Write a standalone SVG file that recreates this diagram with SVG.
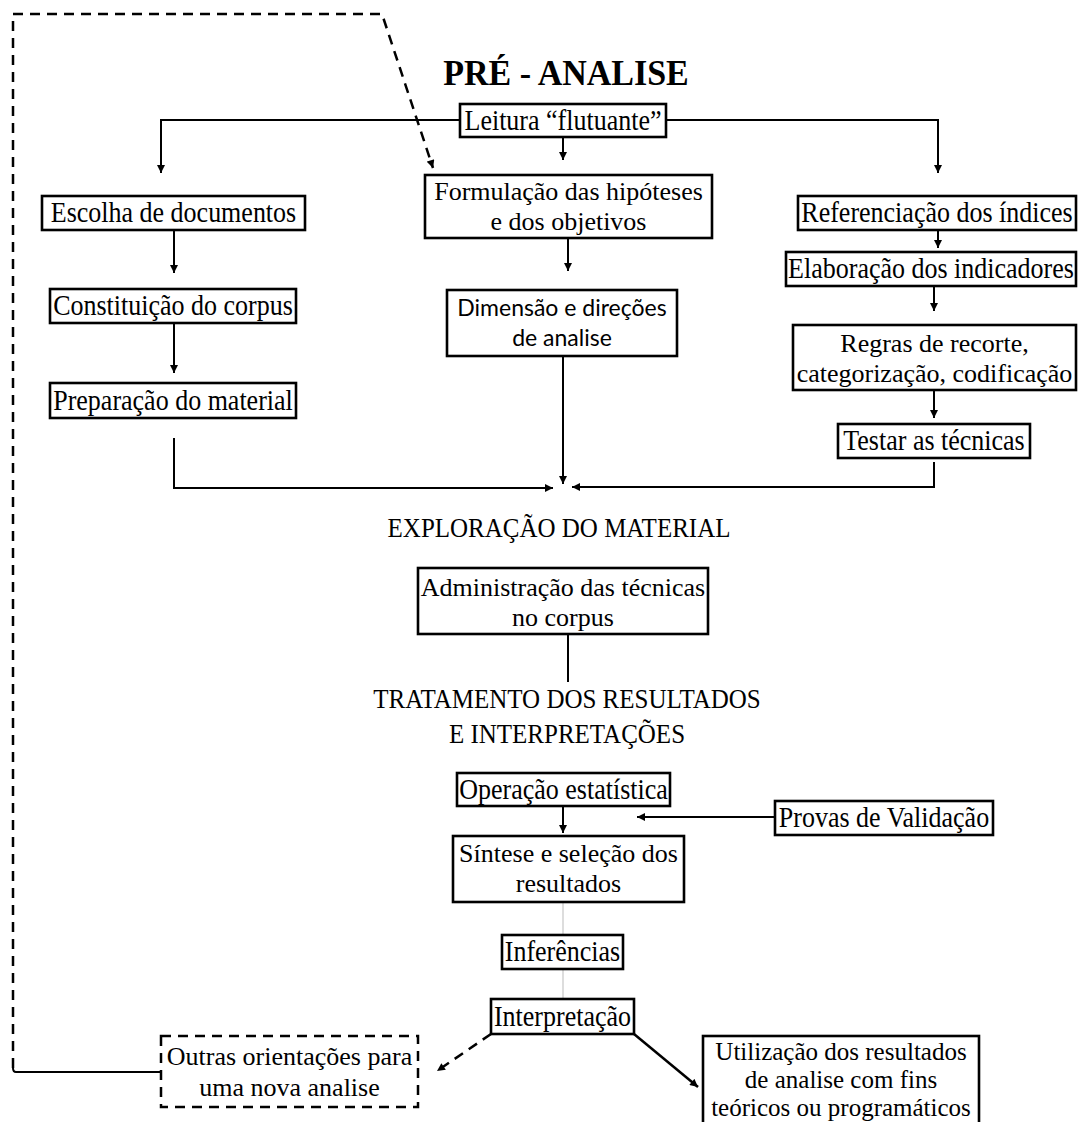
<svg xmlns="http://www.w3.org/2000/svg" width="1080" height="1122" viewBox="0 0 1080 1122">
<defs>
<marker id="ah" viewBox="0 0 10 10" refX="10" refY="5" markerWidth="9" markerHeight="8" markerUnits="userSpaceOnUse" orient="auto"><path d="M0,0 L10,5 L0,10 z" fill="#000"/></marker>
</defs>
<style>
.box{fill:#fff;stroke:#000;stroke-width:2.6}
.dbox{fill:#fff;stroke:#000;stroke-width:2.5;stroke-dasharray:10 7}
.t{font-family:"Liberation Serif","Times New Roman",serif;font-size:26px;fill:#000;text-anchor:middle}
.s{font-family:Lato,"Open Sans",sans-serif;font-size:23px;fill:#000;text-anchor:middle}
.h{font-family:"Liberation Serif","Times New Roman",serif;font-size:25px;fill:#000;text-anchor:middle}
.c{fill:none;stroke:#000;stroke-width:2}
.f{fill:none;stroke:#bbb;stroke-width:1}
.d{fill:none;stroke:#000;stroke-width:2.5;stroke-dasharray:10 7}
</style>
<rect x="0" y="0" width="1080" height="1122" fill="#fff"/>
<g id="connectors">
<path class="c" d="M460,120 H161 V173" marker-end="url(#ah)"/>
<path class="c" d="M666,120 H938 V173" marker-end="url(#ah)"/>
<path class="c" d="M563,137 V160" marker-end="url(#ah)"/>
<path class="c" d="M174,230 V273" marker-end="url(#ah)"/>
<path class="c" d="M174,323 V373" marker-end="url(#ah)"/>
<path class="c" d="M568,238 V271" marker-end="url(#ah)"/>
<path class="c" d="M938,230 V248" marker-end="url(#ah)"/>
<path class="c" d="M934,286 V311" marker-end="url(#ah)"/>
<path class="c" d="M934,390 V418" marker-end="url(#ah)"/>
<path class="c" d="M174,438 V488 H553" marker-end="url(#ah)"/>
<path class="c" d="M563,356 V484" marker-end="url(#ah)"/>
<path class="c" d="M934,462 V487 H572" marker-end="url(#ah)"/>
<path class="c" d="M568,634 V682"/>
<path class="c" d="M563,806 V833" marker-end="url(#ah)"/>
<path class="c" d="M775,817 H637" marker-end="url(#ah)"/>
<path class="f" d="M563,902 V934"/>
<path class="f" d="M563,969 V998"/>
<path class="c" style="stroke-width:2.5" d="M634,1034 L698,1087" marker-end="url(#ah)"/>
<path class="d" d="M491,1034 L437,1071" marker-end="url(#ah)"/>
<path class="c" d="M161,1072 H16 Q13,1072 13,1068"/>
<path class="d" d="M13,1068 V14 H382 L433,168" marker-end="url(#ah)"/>
</g>
<g id="title"><text transform="translate(566,85) scale(1,1.06)" style="font-family:'Liberation Serif','Times New Roman',serif;font-size:34px;font-weight:bold;text-anchor:middle">PRÉ - ANALISE</text></g>
<g id="leitura"><rect class="box" x="460" y="104" width="206" height="33"/><text class="t" transform="translate(563,130) scale(1,1.12)">Leitura “flutuante”</text></g>
<g id="escolha"><rect class="box" x="42" y="196" width="263" height="34"/><text class="t" transform="translate(173.5,222) scale(1,1.12)">Escolha de documentos</text></g>
<g id="formulacao"><rect class="box" x="425" y="175" width="287" height="63"/><text class="t" x="568.5" y="200">Formulação das hipóteses</text><text class="t" x="568.5" y="230">e dos objetivos</text></g>
<g id="referenciacao"><rect class="box" x="798" y="196" width="278" height="34"/><text class="t" transform="translate(937,222) scale(1,1.12)">Referenciação dos índices</text></g>
<g id="elaboracao"><rect class="box" x="786" y="252" width="290" height="34"/><text class="t" transform="translate(931,278) scale(1,1.12)">Elaboração dos indicadores</text></g>
<g id="constituicao"><rect class="box" x="50" y="289" width="246" height="34"/><text class="t" transform="translate(173,315) scale(1,1.12)">Constituição do corpus</text></g>
<g id="dimensao"><rect class="box" x="447" y="290" width="230" height="66"/><text class="s" x="562" y="316">Dimensão e direções</text><text class="s" x="562" y="346">de analise</text></g>
<g id="regras"><rect class="box" x="793" y="325" width="283" height="65"/><text class="t" x="934.5" y="352">Regras de recorte,</text><text class="t" x="934.5" y="382">categorização, codificação</text></g>
<g id="preparacao"><rect class="box" x="50" y="383" width="246" height="35"/><text class="t" transform="translate(173,410) scale(1,1.12)">Preparação do material</text></g>
<g id="testar"><rect class="box" x="838" y="424" width="192" height="34"/><text class="t" transform="translate(934,450) scale(1,1.12)">Testar as técnicas</text></g>
<g id="exploracao"><text class="h" transform="translate(559,537) scale(1,1.1)">EXPLORAÇÃO DO MATERIAL</text></g>
<g id="administracao"><rect class="box" x="418" y="568" width="290" height="66"/><text class="t" x="563" y="596">Administração das técnicas</text><text class="t" x="563" y="626">no corpus</text></g>
<g id="tratamento"><text class="h" transform="translate(567,708) scale(1,1.1)">TRATAMENTO DOS RESULTADOS</text><text class="h" transform="translate(567,743) scale(1,1.1)">E INTERPRETAÇÕES</text></g>
<g id="operacao"><rect class="box" x="457" y="773" width="213" height="33"/><text class="t" transform="translate(563.5,799) scale(1,1.12)">Operação estatística</text></g>
<g id="provas"><rect class="box" x="775" y="801" width="218" height="34"/><text class="t" transform="translate(884,827) scale(1,1.12)">Provas de Validação</text></g>
<g id="sintese"><rect class="box" x="453" y="836" width="231" height="66"/><text class="t" x="568.5" y="862">Síntese e seleção dos</text><text class="t" x="568.5" y="892">resultados</text></g>
<g id="inferencias"><rect class="box" x="502" y="935" width="121" height="34"/><text class="t" transform="translate(562.5,961) scale(1,1.12)">Inferências</text></g>
<g id="interpretacao"><rect class="box" x="491" y="999" width="143" height="35"/><text class="t" transform="translate(562.5,1026) scale(1,1.12)">Interpretação</text></g>
<g id="outras"><rect class="dbox" x="161" y="1036" width="257" height="71"/><text class="t" x="289.5" y="1065">Outras orientações para</text><text class="t" x="289.5" y="1096">uma nova analise</text></g>
<g id="utilizacao"><rect class="box" x="703" y="1036" width="276" height="92"/><text class="t" x="841" y="1060" style="font-size:25px">Utilização dos resultados</text><text class="t" x="841" y="1088" style="font-size:25px">de analise com fins</text><text class="t" x="841" y="1116" style="font-size:25px">teóricos ou programáticos</text></g>
</svg>
